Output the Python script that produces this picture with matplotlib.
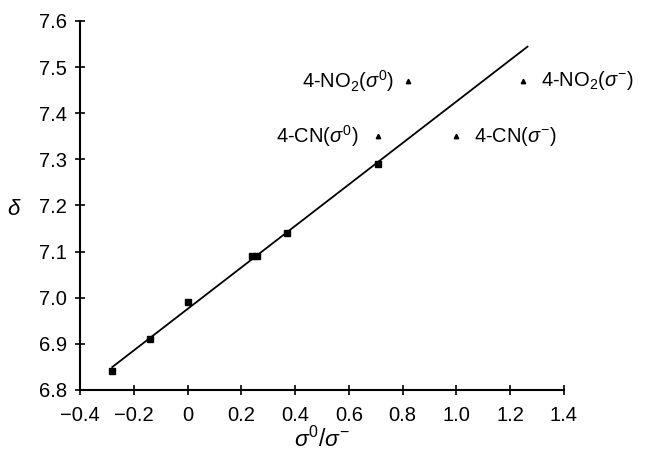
import matplotlib
matplotlib.use("Agg")
import matplotlib.pyplot as plt
import numpy as np

plt.rcParams['font.family'] = ['Liberation Sans', 'DejaVu Sans']
plt.rcParams['mathtext.fontset'] = 'custom'
plt.rcParams['mathtext.rm'] = 'Liberation Sans'
plt.rcParams['mathtext.it'] = 'Liberation Sans:italic'
plt.rcParams['mathtext.bf'] = 'Liberation Sans:bold'

# fitted series (squares)
sq_x = [-0.28, -0.14, 0.0, 0.24, 0.26, 0.37, 0.71]
sq_y = [6.84, 6.91, 6.99, 7.09, 7.09, 7.14, 7.29]

# outlier points (triangles)
tri_x = [0.82, 1.25, 0.71, 1.00]
tri_y = [7.47, 7.47, 7.35, 7.35]
tri_labels = [r'4-NO$_2$($\sigma^0$)', r'4-NO$_2$($\sigma^{-}$)',
              r'4-CN($\sigma^0$)', r'4-CN($\sigma^{-}$)']
tri_side = ['left', 'right', 'left', 'right']
tri_gap = [10, 12.5, 14, 13]

line_x_range = [-0.28, 1.265]

xticks = [-0.4, -0.2, 0, 0.2, 0.4, 0.6, 0.8, 1.0, 1.2, 1.4]
xtick_labels = ['\u22120.4', '\u22120.2', '0', '0.2', '0.4', '0.6', '0.8', '1.0', '1.2', '1.4']
yticks = [6.8, 6.9, 7.0, 7.1, 7.2, 7.3, 7.4, 7.5, 7.6]
ytick_labels = ['6.8', '6.9', '7.0', '7.1', '7.2', '7.3', '7.4', '7.5', '7.6']

fig = plt.figure(figsize=(6.48, 4.55), dpi=100)
ax = fig.add_axes([0.1235, 0.143, 0.7465, 0.811])

slope, intercept = np.polyfit(sq_x, sq_y, 1)
lx = np.array(line_x_range)
ax.plot(lx, slope * lx + intercept, color='black', lw=1.3)

ax.plot(sq_x, sq_y, linestyle='none', marker='s', ms=4, color='black')
ax.plot(tri_x, tri_y, linestyle='none', marker='^', ms=3.2, color='black')

for x, y, lab, side, g in zip(tri_x, tri_y, tri_labels, tri_side, tri_gap):
    if side == 'left':
        ax.annotate(lab, (x, y), xytext=(-g, 0), textcoords='offset points',
                    ha='right', va='center', fontsize=14.5)
    else:
        ax.annotate(lab, (x, y), xytext=(g, 0), textcoords='offset points',
                    ha='left', va='center', fontsize=14.5)

ax.set_xlim(-0.4, 1.4)
ax.set_ylim(6.8, 7.6)
ax.set_xticks(xticks)
ax.set_xticklabels(xtick_labels)
ax.set_yticks(yticks)
ax.set_yticklabels(ytick_labels)
ax.tick_params(direction='inout', length=7, width=1.2, labelsize=14.5, colors='black')
ax.tick_params(axis='x', pad=8)
ax.tick_params(axis='y', pad=6)
for s in ['top', 'right']:
    ax.spines[s].set_visible(False)
for s in ['left', 'bottom']:
    ax.spines[s].set_linewidth(1.5)

ax.set_xlabel(r'$\sigma^0/\sigma^{-}$', fontsize=16.5, labelpad=1)
ax.set_ylabel(r'$\delta$', fontsize=16, rotation=0, va='center')
ax.yaxis.set_label_coords(-0.135, 0.49)

fig.savefig('out.png', dpi=100)
